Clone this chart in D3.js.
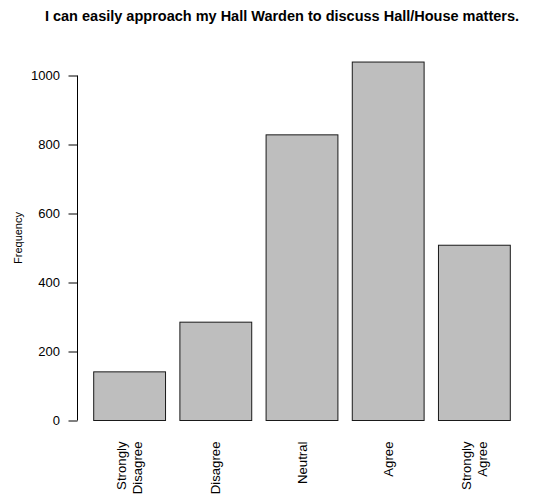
<!DOCTYPE html>
<html>
<head>
<meta charset="utf-8">
<script src="https://cdn.jsdelivr.net/npm/d3@7"></script>
<style>
  html, body { margin: 0; padding: 0; background: #fff; }
  svg { display: block; }
  text { font-family: "Liberation Sans", Arial, Helvetica, sans-serif; fill: #000; }
</style>
</head>
<body>
<svg id="chart" width="554" height="496"></svg>
<script>
// Survey response counts
const categories = [["Strongly", "Disagree"], ["Disagree"], ["Neutral"], ["Agree"], ["Strongly", "Agree"]];
const frequencies = [141, 285, 828, 1039, 508];
const yTicks = [0, 200, 400, 600, 800, 1000];
const title = "I can easily approach my Hall Warden to discuss Hall/House matters.";
const yLabel = "Frequency";

const svg = d3.select("#chart");

const axisX = 77;
const x = d3.scaleBand()
  .domain(d3.range(categories.length))
  .range([93.7, 510.3])
  .paddingInner(0.2 / 1.2)
  .paddingOuter(0);

const y = d3.scaleLinear().domain([0, 1000]).range([420.5, 75.5]);

// Bars
svg.append("g")
  .selectAll("rect")
  .data(frequencies)
  .join("rect")
  .attr("x", (d, i) => x(i))
  .attr("y", d => y(d))
  .attr("width", x.bandwidth())
  .attr("height", d => y(0) - y(d))
  .attr("fill", "#bebebe")
  .attr("stroke", "#1a1a1a")
  .attr("stroke-width", 1);

// Y axis
const yAxis = d3.axisLeft(y)
  .tickValues(yTicks)
  .tickFormat(d3.format("d"))
  .tickSize(9)
  .tickPadding(8)
  .tickSizeOuter(0);

const gy = svg.append("g")
  .attr("transform", `translate(${axisX},0)`)
  .call(yAxis);
gy.select(".domain").remove();
gy.append("line")
  .attr("x1", 0.5).attr("x2", 0.5)
  .attr("y1", y(yTicks[0])).attr("y2", y(yTicks[yTicks.length - 1]))
  .attr("stroke", "#000");
gy.selectAll(".tick line").attr("stroke", "#000").attr("x2", -8.5).attr("x1", 0.5);
gy.selectAll(".tick text")
  .attr("font-size", 13)
  .attr("font-family", "Liberation Sans, Arial, sans-serif")
  .attr("fill", "#000");

// Category labels, rotated, end-aligned below the bars
const lineH = 16;
const labelTop = 441.5;
const lbl = svg.append("g")
  .selectAll("text")
  .data(categories)
  .join("text")
  .attr("transform", (d, i) => `translate(${x(i) + x.bandwidth() / 2},${labelTop}) rotate(-90)`)
  .attr("text-anchor", "end")
  .attr("font-size", 13.2);
lbl.selectAll("tspan")
  .data(d => d.map((t, k) => ({ t, k, n: d.length })))
  .join("tspan")
  .attr("x", 0)
  .attr("y", d => (d.k - (d.n - 1) / 2) * lineH)
  .attr("dy", "0.35em")
  .text(d => d.t);

// Y axis title
svg.append("text")
  .attr("transform", `translate(18,${(y(0) + y(1000)) / 2 - 10}) rotate(-90)`)
  .attr("text-anchor", "middle")
  .attr("dy", "0.35em")
  .attr("font-size", 11)
  .text(yLabel);

// Chart title
svg.append("text")
  .attr("x", 282)
  .attr("y", 21)
  .attr("text-anchor", "middle")
  .attr("font-size", 14.5)
  .attr("font-weight", "bold")
  .text(title);
</script>
</body>
</html>
